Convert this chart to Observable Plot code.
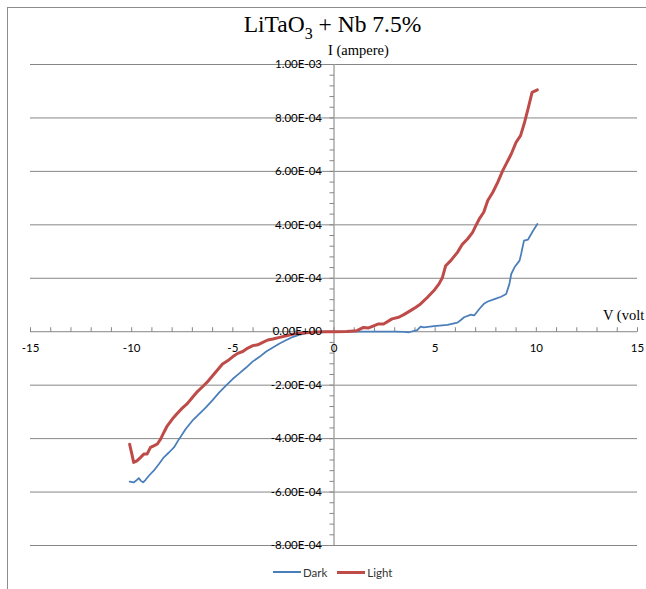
<!DOCTYPE html>
<html>
<head>
<meta charset="utf-8">
<script src="https://cdn.jsdelivr.net/npm/d3@7"></script>
<script src="https://cdn.jsdelivr.net/npm/@observablehq/plot@0.6"></script>
<style>
html, body { margin: 0; padding: 0; background: #fff; }
#chart { position: relative; width: 646px; height: 589px; overflow: hidden; }
#chart svg { position: absolute; left: 0; top: 0; }
.border { position: absolute; left: 7px; top: 7px; width: 800px; height: 800px; border-left: 1px solid #8c8c8c; border-top: 1px solid #8c8c8c; box-sizing: border-box; }
.title { position: absolute; left: 0; width: 665px; top: 13.3px; text-align: center; font-family: "Liberation Serif", serif; font-size: 23.5px; line-height: 23.5px; color: #000; white-space: nowrap; }
.title sub { font-size: 16px; vertical-align: -7px; line-height: 0; }
.ylab { position: absolute; left: 328px; top: 43px; font-family: "Liberation Serif", serif; font-size: 14.5px; line-height: 14.5px; color: #000; white-space: nowrap; }
.xlab { position: absolute; left: 603px; top: 308px; font-family: "Liberation Serif", serif; font-size: 14.5px; line-height: 14.5px; color: #000; white-space: nowrap; }
.legend { position: absolute; left: 273px; top: 564px; height: 16px; display: flex; align-items: center; font-family: Lato, sans-serif; font-size: 11.5px; color: #333; }
.legend .sw { display: inline-block; width: 28px; }
.legend .lb { margin-left: 2px; margin-right: 10px; }
</style>
</head>
<body>
<div id="chart">
  <div class="border"></div>
</div>
<script>
// ---- data (current in units of 1e-4 A) ----
const UNIT = 1e-4;
const seriesNames = ["Dark", "Light"];
const seriesColors = ["#4A7EBB", "#BE4B48"];

const darkV = [-10.1,-9.9,-9.79,-9.65,-9.54,-9.44,-9.32,-9.15,-8.91,-8.66,-8.41,-8.16,-7.91,-7.66,-7.33,-7.0,-6.67,-6.33,-6.0,-5.67,-5.34,-5.01,-4.68,-4.34,-4.01,-3.68,-3.35,-3.02,-2.69,-2.35,-2.02,-1.69,-1.36,-1.03,-0.7,-0.3,0,0.5,1,1.5,2,2.5,3,3.5,3.7,4.11,4.28,4.44,4.94,5.61,6.1,6.27,6.43,6.77,6.93,7.18,7.43,7.6,7.93,8.26,8.51,8.67,8.76,8.92,9.17,9.25,9.39,9.59,9.84,10.05];
const darkI = [-5.61,-5.64,-5.58,-5.48,-5.58,-5.64,-5.55,-5.39,-5.2,-4.96,-4.7,-4.52,-4.33,-4.02,-3.64,-3.33,-3.08,-2.83,-2.56,-2.27,-2.02,-1.77,-1.56,-1.34,-1.11,-0.94,-0.74,-0.59,-0.44,-0.31,-0.19,-0.11,-0.05,-0.01,-0.004,-0.001,0,0.002,0.004,0.003,0.005,0,0.004,-0.01,-0.02,0.06,0.19,0.16,0.21,0.26,0.34,0.44,0.54,0.64,0.61,0.85,1.06,1.13,1.22,1.31,1.41,1.79,2.16,2.41,2.66,2.91,3.41,3.45,3.78,4.03];

const lightV = [-10.1,-9.99,-9.9,-9.74,-9.57,-9.4,-9.24,-9.07,-8.91,-8.74,-8.57,-8.41,-8.24,-7.99,-7.75,-7.5,-7.25,-7.0,-6.75,-6.5,-6.25,-6.0,-5.76,-5.51,-5.26,-5.01,-4.76,-4.51,-4.26,-4.01,-3.77,-3.52,-3.27,-3.02,-2.69,-2.35,-2.02,-1.69,-1.36,-0.86,-0.4,0,0.63,1.13,1.46,1.71,1.96,2.2,2.45,2.87,3.2,3.45,3.78,4.03,4.28,4.61,4.94,5.19,5.36,5.52,5.77,6.1,6.35,6.6,6.85,7.01,7.18,7.4,7.6,7.85,8.09,8.34,8.51,8.76,9.0,9.22,9.42,9.59,9.79,10.05];
const lightI = [-4.21,-4.58,-4.89,-4.83,-4.71,-4.58,-4.58,-4.33,-4.27,-4.21,-4.02,-3.77,-3.52,-3.27,-3.06,-2.86,-2.69,-2.46,-2.24,-2.06,-1.87,-1.65,-1.43,-1.21,-1.09,-0.94,-0.81,-0.74,-0.61,-0.52,-0.49,-0.40,-0.31,-0.27,-0.21,-0.15,-0.09,-0.06,-0.04,-0.01,-0.003,0,0.01,0.04,0.16,0.14,0.22,0.29,0.29,0.48,0.54,0.64,0.79,0.91,1.04,1.28,1.54,1.79,2.03,2.47,2.66,2.97,3.28,3.47,3.72,3.97,4.22,4.47,4.91,5.22,5.59,6.03,6.28,6.65,7.09,7.34,7.84,8.34,8.96,9.05];

const xTicks = [-15, -10, -5, 0, 5, 10, 15];
const yTicks = [-8e-4, -6e-4, -4e-4, -2e-4, 0, 2e-4, 4e-4, 6e-4, 8e-4, 1e-3];
const xMinor = d3.range(-15, 16);              // every 1 V
const yMinor = d3.range(-20, 26).map(k => k * 4e-5); // every 4e-5 A

const titleMain = "LiTaO", titleSub = "3", titleRest = " + Nb 7.5%";
const yLabel = "I (ampere)";
const xLabel = "V (volt";

// ---- build ----
const dark = darkV.map((v, k) => ({v, i: darkI[k] * UNIT}));
const light = lightV.map((v, k) => ({v, i: lightI[k] * UNIT}));

function fmtE(v) {
  if (v === 0) return "0.00E+00";
  let [m, e] = v.toExponential(2).split("e");
  const s = e[0] === "-" ? "-" : "+";
  e = e.replace(/[+-]/, "");
  return m + "E" + s + e.padStart(2, "0");
}

const tickLeft = {draw(ctx) { ctx.moveTo(0, 0); ctx.lineTo(-4.5, 0); }};
const tickUp = {draw(ctx) { ctx.moveTo(0, 0); ctx.lineTo(0, -4.5); }};

const chart = Plot.plot({
  width: 646,
  height: 589,
  marginLeft: 30,
  marginRight: 9,
  marginTop: 64,
  marginBottom: 44,
  x: {domain: [-15, 15], axis: null},
  y: {domain: [-8e-4, 1e-3], axis: null},
  style: {fontFamily: "Lato, sans-serif", fontSize: "11.5px", background: "transparent", color: "#000", overflow: "visible"},
  marks: [
    Plot.ruleY(yTicks, {stroke: "#868686", strokeWidth: 1}),
    Plot.ruleX([0], {stroke: "#a8a8a8", strokeWidth: 1.5}),
    Plot.dot(yMinor, {x: 0, y: d => d, symbol: tickLeft, stroke: "#868686", fill: "none", strokeWidth: 1}),
    Plot.dot(xMinor, {x: d => d, y: 0, symbol: tickUp, stroke: "#868686", fill: "none", strokeWidth: 1}),
    Plot.line(dark, {x: "v", y: "i", stroke: seriesColors[0], strokeWidth: 1.75, strokeLinejoin: "round"}),
    Plot.line(light, {x: "v", y: "i", stroke: seriesColors[1], strokeWidth: 3, strokeLinejoin: "round"}),
    Plot.text(yTicks, {x: 0, y: d => d, text: fmtE, textAnchor: "end", dx: -12, fill: "#000"}),
    Plot.text(xTicks, {x: d => d, y: 0, text: d => String(d), dy: 17, fill: "#000"})
  ]
});

const root = document.getElementById("chart");
root.appendChild(chart);

const t = document.createElement("div");
t.className = "title";
t.append(titleMain);
const sub = document.createElement("sub");
sub.textContent = titleSub;
t.append(sub);
t.append(titleRest);
root.appendChild(t);

const yl = document.createElement("div");
yl.className = "ylab"; yl.textContent = yLabel; root.appendChild(yl);
const xl = document.createElement("div");
xl.className = "xlab"; xl.textContent = xLabel; root.appendChild(xl);

const lg = document.createElement("div");
lg.className = "legend";
seriesNames.forEach((n, k) => {
  const sw = document.createElement("span");
  sw.className = "sw";
  sw.style.height = (k === 0 ? 2 : 3) + "px";
  sw.style.background = seriesColors[k];
  const lb = document.createElement("span");
  lb.className = "lb";
  lb.textContent = n;
  lg.append(sw, lb);
});
root.appendChild(lg);
</script>
</body>
</html>
